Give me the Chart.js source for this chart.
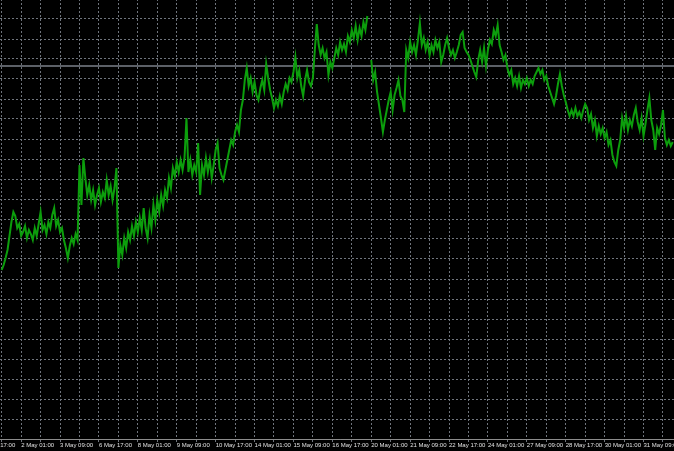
<!DOCTYPE html>
<html>
<head>
<meta charset="utf-8">
<title>Price chart</title>
<script src="https://cdn.jsdelivr.net/npm/chart.js@4.4.1/dist/chart.umd.min.js"></script>
<style>
    html, body { margin: 0; padding: 0; background: #000; overflow: hidden; }
    body { width: 674px; height: 451px; position: relative; }
    /* canvas is a bit wider than the window so the first date label gets clipped like the original */
    #wrap { position: absolute; left: -60px; top: -1px; width: 800px; height: 452px; }
</style>
</head>
<body>
<div id="wrap"><canvas id="priceChart"></canvas></div>
<script>
/* ================================
   Data (one value per bar, null = gap)
================================ */
const prices = [
    169, 174, 181, 189, 203, 217, 227, 223, 211, 215,
    203, 207, 213, 201, 209, 205, 199, 211, 203, 215,
    227, 209, 214, 205, 217, 211, 224, 231, 213, 219,
    207, 211, 199, 191, 181, 193, 201, 195, 205, 199,
    274, 234, 281, 261, 244, 254, 239, 249, 234, 244,
    251, 237, 247, 241, 259, 244, 253, 239, 251, 271,
    171, 194, 184, 201, 191, 207, 199, 213, 203, 217,
    207, 221, 209, 231, 211, 201, 224, 211, 234, 219,
    239, 227, 244, 233, 249, 241, 261, 251, 271, 263,
    277, 267, 279, 269, 281, 321, 267, 279, 264, 274,
    267, 296, 244, 274, 264, 281, 267, 279, 261, 274,
    289, 296, 271, 264, 259, 269, 279, 289, 299, 294,
    307, 314, 307, 329, 339, 359, 371, 353, 361, 347,
    357, 344, 339, 351, 359, 349, 375, 361, 349, 341,
    331, 339, 333, 343, 335, 347, 355, 349, 361, 357,
    367, 382, 361, 369, 353, 343, 359, 369, 357, 353,
    361, 389, 415, 394, 384, 391, 381, 387, 364, 377,
    371, 381, 391, 384, 397, 389, 395, 387, 403, 397,
    409, 401, 413, 399, 411, 403, 417, 409, 423, null,
    379, 359, 367, 347, 334, 321, 307, 319, 329, 339,
    347, 329, 344, 351, 359, 343, 339, 327, 389, 381,
    397, 387, 394, 384, 399, 416, 394, 401, 389, 397,
    384, 394, 387, 399, 391, 397, 377, 384, 394, 401,
    391, 384, 389, 381, 387, 394, 404, 407, 391, 387,
    384, 379, 373, 367, 362, 379, 389, 377, 391, 373,
    389, 399, 395, 409, 403, 414, 394, 387, 379, 384,
    371, 364, 369, 355, 361, 353, 363, 351, 359, 355,
    361, 353, 359, 355, 363, 367, 371, 365, 369, 359,
    363, 353, 347, 341, 335, 343, 355, 365, 353, 344,
    337, 329, 323, 329, 323, 331, 323, 327, 321, 329,
    335, 331, 319, 325, 311, 319, 303, 313, 305, 311,
    301, 307, 294, 299, 284, 277, 273, 289, 299, 321,
    311, 323, 309, 319, 313, 324, 331, 317, 309, 321,
    303, 315, 329, 341, 319, 309, 289, 311, 305, 314,
    329, 301, 294, 299, 293, 297
];

const tickLabels = [
    "1 May 17:00", "2 May 01:00", "3 May 09:00", "6 May 17:00", "8 May 01:00",
    "9 May 09:00", "10 May 17:00", "14 May 01:00", "15 May 09:00", "16 May 17:00",
    "20 May 01:00", "21 May 09:00", "22 May 17:00", "24 May 01:00", "27 May 09:00",
    "28 May 17:00", "30 May 01:00", "31 May 09:00"
];
const firstLabelBar = -10; // bar index of the first label
const labelEvery = 20;     // bars between labels
const levelPrice = 373;    // horizontal line

/* ================================
   Helpers
================================ */
function tickText(value) {
    const k = (value - firstLabelBar) / labelEvery;
    if (Number.isInteger(k) && k >= 0 && k < tickLabels.length) {
        return tickLabels[k];
    }
    return "";
}

const levelLine = {
    id: "levelLine",
    beforeDatasetsDraw: function (chart) {
        const y = chart.scales.y.getPixelForValue(levelPrice);
        const area = chart.chartArea;
        const ctx = chart.ctx;
        ctx.save();
        ctx.strokeStyle = "#5c6067";
        ctx.lineWidth = 2;
        ctx.beginPath();
        ctx.moveTo(area.left, y);
        ctx.lineTo(area.right, y);
        ctx.stroke();
        ctx.restore();
    },
};

const points = prices.map(function (p, i) {
    return { x: i, y: p };
});

const gridColor = "#6f747c";

/* ================================
   Chart
================================ */
new Chart(document.getElementById("priceChart"), {
    type: "line",
    data: {
        datasets: [{
            data: points,
            borderColor: "#0c9e0c",
            borderWidth: 2,
            pointRadius: 0,
            tension: 0,
            spanGaps: false,
        }, ],
    },
    options: {
        responsive: true,
        maintainAspectRatio: false,
        animation: false,
        layout: { padding: 0 },
        plugins: {
            legend: { display: false },
            tooltip: { enabled: false },
        },
        scales: {
            x: {
                type: "linear",
                min: -31.72,
                max: 379.6,
                afterFit: function (scale) {
                    scale.height = 12;
                },
                grid: { color: gridColor, lineWidth: 1, drawTicks: true, tickLength: 3 },
                border: { display: true, color: "#8c8c8c", width: 1, dash: [2, 2] },
                ticks: {
                    stepSize: 10,
                    autoSkip: false,
                    maxRotation: 0,
                    minRotation: 0,
                    align: "start",
                    padding: 0,
                    color: "#e0e0e0",
                    font: { family: "Liberation Sans", size: 6 },
                    callback: tickText,
                },
            },
            y: {
                min: 0,
                max: 440,
                afterFit: function (scale) {
                    scale.width = 0;
                },
                grid: { color: gridColor, lineWidth: 1, drawTicks: false },
                border: { display: false, dash: [2, 2] },
                ticks: { display: false, stepSize: 20 },
            },
        },
    },
    plugins: [levelLine],
});
</script>
</body>
</html>
